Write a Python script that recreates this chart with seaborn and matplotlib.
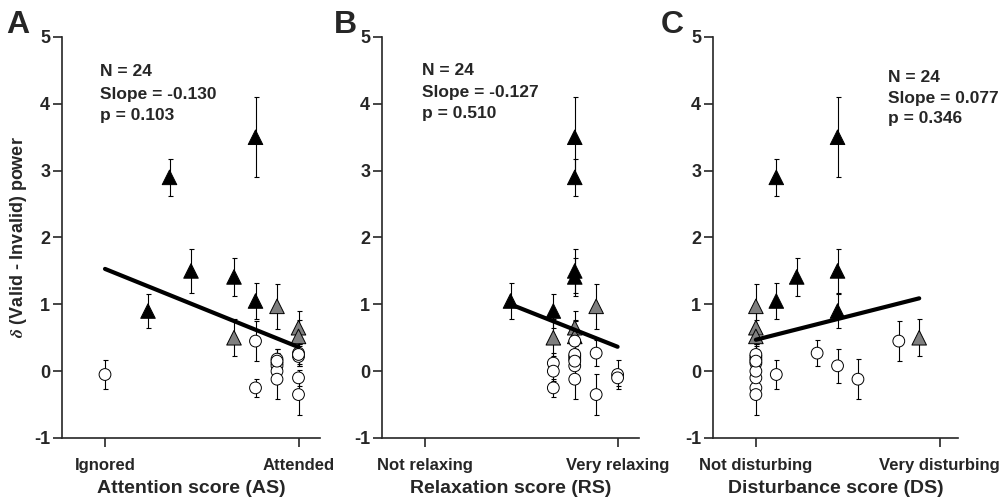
import numpy as np
import pandas as pd
import matplotlib
matplotlib.use('Agg')
import matplotlib.pyplot as plt
import seaborn as sns

# one row per subject (N = 24): marker group, delta power difference and its error
group = ['black'] * 6 + ['gray'] * 4 + ['white'] * 14
delta = [3.50, 2.90, 1.50, 1.41, 1.05, 0.90,
         0.97, 0.65, 0.52, 0.50,
         0.45, -0.25, -0.05, 0.27, 0.22, -0.10, -0.35, 0.18, 0.12, 0.08, 0.00, -0.12, 0.25, 0.15]
sem = [0.60, 0.28, 0.33, 0.28, 0.27, 0.25,
       0.34, 0.25, 0.25, 0.28,
       0.30, 0.13, 0.21, 0.20, 0.15, 0.12, 0.31, 0.15, 0.15, 0.25, 0.15, 0.30, 0.15, 0.10]

# questionnaire scores (1..10) per subject
attention_score = [8, 4, 5, 7, 8, 3, 9, 10, 10, 7, 8, 8, 1, 10, 10, 10, 10, 9, 9, 9, 9, 9, 10, 9]
relaxation_score = [8, 8, 8, 8, 5, 7, 9, 8, 8, 7, 8, 7, 10, 9, 8, 10, 9, 8, 7, 8, 7, 8, 8, 8]
disturbance_score = [5, 2, 5, 3, 2, 5, 1, 1, 1, 9, 8, 1, 2, 4, 1, 1, 1, 1, 1, 5, 1, 6, 1, 1]

# regression line end points for each panel
fit_x = [[1, 10], [5, 10], [1, 9]]
fit_y = [[1.53, 0.36], [1.00, 0.365], [0.47, 1.09]]

panel_letters = ['A', 'B', 'C']
x_labels = ['Attention score (AS)', 'Relaxation score (RS)', 'Disturbance score (DS)']
x_ticklabels = [['Ignored', 'Attended'], ['Not relaxing', 'Very relaxing'],
                ['Not disturbing', 'Very disturbing']]
stats_text = [['N = 24', 'Slope = -0.130', 'p = 0.103'],
              ['N = 24', 'Slope = -0.127', 'p = 0.510'],
              ['N = 24', 'Slope = 0.077', 'p = 0.346']]

df = pd.DataFrame({'group': group, 'delta': delta, 'sem': sem,
                   'AS': attention_score, 'RS': relaxation_score, 'DS': disturbance_score})
score_cols = ['AS', 'RS', 'DS']

sns.set_style('ticks')
plt.rcParams['font.family'] = ['Liberation Sans', 'DejaVu Sans']
plt.rcParams['font.weight'] = 'bold'
plt.rcParams['axes.unicode_minus'] = False
plt.rcParams['mathtext.fontset'] = 'stix'

W, H = 1002, 498
fig = plt.figure(figsize=(W / 100, H / 100), dpi=100)

# axes boxes in pixels: left, right, top, bottom
boxes = [(62, 320, 37, 438), (382, 639, 37, 438), (713, 958, 37, 438)]
xlims = [(-1, 11), (-1, 11), (-1.1, 10.9)]
text_pos = [(100, [76, 99, 120]), (422, [75, 97, 118]), (888, [82, 103, 123])]
letter_pos = [(6, 33), (334, 33), (661, 33)]

palette = {'black': 'black', 'gray': '#7f7f7f', 'white': 'white'}
markers = {'black': '^', 'gray': '^', 'white': 'o'}
sizes = {'black': 110, 'gray': 110, 'white': 72}

for i in range(3):
    l, r, t, b = boxes[i]
    ax = fig.add_axes([l / W, 1 - b / H, (r - l) / W, (b - t) / H])
    col = score_cols[i]

    ax.errorbar(df[col], df['delta'], yerr=df['sem'], fmt='none', ecolor='black',
                elinewidth=0.8, capsize=1.8, capthick=0.8, zorder=1)
    sns.scatterplot(data=df, x=col, y='delta', hue='group', style='group', size='group',
                    palette=palette, markers=markers, sizes=sizes,
                    edgecolor='black', linewidth=0.7, legend=False, ax=ax, zorder=2)
    sns.lineplot(x=fit_x[i], y=fit_y[i], color='black', linewidth=3, ax=ax, zorder=3)

    ax.set_xlim(*xlims[i])
    ax.set_ylim(-1, 5)
    ax.set_yticks(range(-1, 6))
    ax.set_xticks([1, 10])
    ax.set_xticklabels(x_ticklabels[i], fontsize=12, fontweight='bold')
    ax.tick_params(axis='y', labelsize=13, length=6.5, width=1.2, pad=2)
    ax.tick_params(axis='x', length=6.5, width=1.2, pad=8)
    for lab in ax.get_yticklabels():
        lab.set_fontweight('bold')
    ax.set_xlabel(x_labels[i], fontsize=14, fontweight='bold', labelpad=5)
    if i == 0:
        ax.set_ylabel(r'$\delta$ (Valid - Invalid) power', fontsize=13, fontweight='bold',
                      labelpad=4)
    else:
        ax.set_ylabel('')
    sns.despine(ax=ax)
    for s in ['left', 'bottom']:
        ax.spines[s].set_linewidth(1.2)

    tx, tys = text_pos[i]
    for line, ty in zip(stats_text[i], tys):
        fig.text(tx / W, 1 - ty / H, line, fontsize=12.5, fontweight='bold',
                 ha='left', va='baseline')
    lx, ly = letter_pos[i]
    fig.text(lx / W, 1 - ly / H, panel_letters[i], fontsize=23, fontweight='bold',
             ha='left', va='baseline')

fig.savefig('out.png', dpi=100)
